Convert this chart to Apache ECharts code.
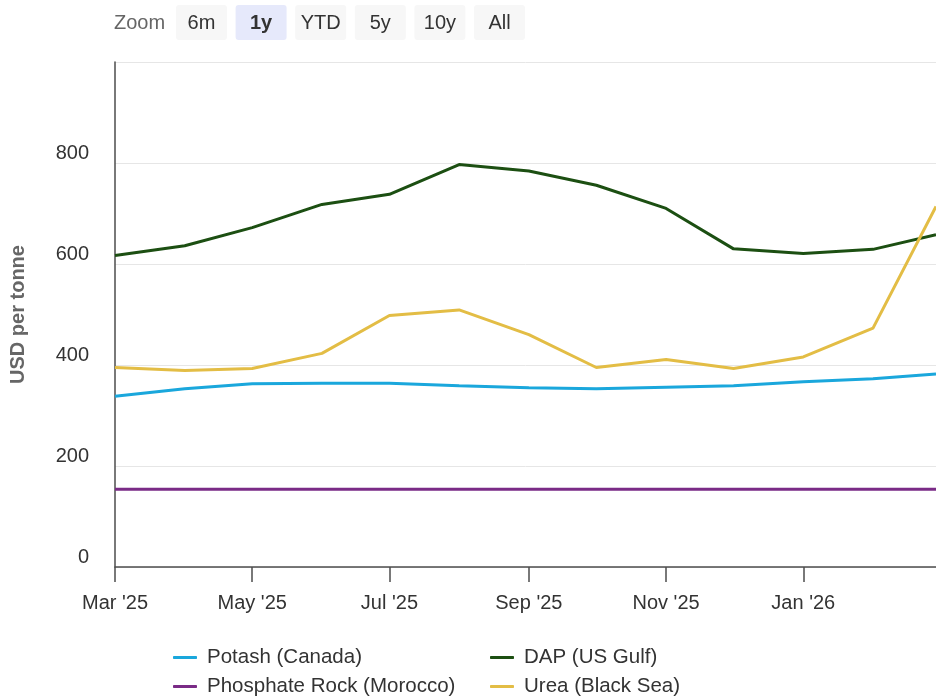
<!DOCTYPE html>
<html>
<head>
<meta charset="utf-8">
<script src="https://cdn.jsdelivr.net/npm/echarts@6/dist/echarts.min.js"></script>
<style>
  html, body { margin: 0; padding: 0; background: #fff; }
  #chart { width: 936px; height: 697px; }
</style>
</head>
<body>
<div id="chart"></div>
<script>
// ---- data ----
const months = ['2025-03','2025-04','2025-05','2025-06','2025-07','2025-08','2025-09','2025-10','2025-11','2025-12','2026-01','2026-02','2026-03'];
const potash    = [338, 353, 363, 364, 364, 359, 355, 353, 356, 359, 367, 373, 382];
const dap       = [617, 636, 672, 718, 738, 797, 784, 756, 710, 630, 621, 629, 658];
const phosphate = [154, 154, 154, 154, 154, 154, 154, 154, 154, 154, 154, 154, 154];
const urea      = [395, 389, 393, 423, 498, 509, 460, 395, 411, 393, 416, 473, 714];
const seriesNames = ['Potash (Canada)', 'DAP (US Gulf)', 'Phosphate Rock (Morocco)', 'Urea (Black Sea)'];
const xTickMonths = ['2025-03','2025-05','2025-07','2025-09','2025-11','2026-01'];
const xTickLabels = ["Mar '25", "May '25", "Jul '25", "Sep '25", "Nov '25", "Jan '26"];
const zoomButtons = ['6m', '1y', 'YTD', '5y', '10y', 'All'];
const selectedZoom = '1y';

function ts(m) { const p = m.split('-'); return Date.UTC(+p[0], +p[1] - 1, 1); }
const xs = months.map(ts);
const tickTs = xTickMonths.map(ts);
const pair = arr => arr.map((v, i) => [xs[i], v]);

const FONT = '"Liberation Sans", Arial, sans-serif';

// zoom buttons as graphics
const graphics = [{
  type: 'text', x: 114, y: 23,
  style: { text: 'Zoom', font: '20px ' + FONT, fill: '#666', verticalAlign: 'middle' }
}];
zoomButtons.forEach((b, i) => {
  const x = 176 + i * 59.6;
  const sel = b === selectedZoom;
  graphics.push({
    type: 'rect', shape: { x: x, y: 5, width: 51, height: 35, r: 3 },
    style: { fill: sel ? '#e6e9fb' : '#f7f7f7' }
  });
  graphics.push({
    type: 'text', x: x + 25.5, y: 23,
    style: { text: b, font: (sel ? 'bold ' : '') + '20px ' + FONT, fill: '#333', align: 'center', verticalAlign: 'middle' }
  });
});

const chart = echarts.init(document.getElementById('chart'));
const axisColor = '#4d4d4d';
const mk = (name, data, color) => ({
  name, type: 'line', data: pair(data), symbol: 'none',
  lineStyle: { width: 3, color }, itemStyle: { color }
});

// legend positions: [left, centerY]
const legendPos = [[173, 657], [490, 657], [173, 686], [490, 686]];
const legends = seriesNames.map((n, i) => ({
  orient: 'horizontal', left: legendPos[i][0], top: legendPos[i][1] - 10, padding: 0,
  itemWidth: 24, itemHeight: 3, icon: 'roundRect', data: [n],
  textStyle: { fontSize: 20.5, color: '#333', lineHeight: 20, padding: [0, 0, 0, 5], fontFamily: FONT }
}));

chart.setOption({
  animation: false,
  textStyle: { fontFamily: FONT },
  graphic: graphics,
  grid: { left: 115, right: 0, top: 62, bottom: 130, containLabel: false },
  xAxis: {
    type: 'value',
    min: xs[0], max: xs[xs.length - 1],
    axisLine: { show: true, lineStyle: { color: axisColor, width: 1.5 } },
    axisTick: { show: true, length: 15, lineStyle: { color: axisColor, width: 1.5 }, customValues: tickTs },
    axisLabel: {
      customValues: tickTs,
      margin: 26, fontSize: 20, color: '#333', fontFamily: FONT,
      formatter: v => { const i = tickTs.indexOf(v); return i >= 0 ? xTickLabels[i] : ''; }
    },
    splitLine: { show: false }
  },
  yAxis: {
    type: 'value', min: 0, max: 1000, interval: 200,
    name: 'USD per tonne', nameLocation: 'middle', nameGap: 87,
    nameTextStyle: { fontSize: 20, fontWeight: 'bold', color: '#666', fontFamily: FONT },
    axisLine: { show: true, lineStyle: { color: axisColor, width: 1.5 } },
    axisTick: { show: false },
    axisLabel: {
      margin: 26, fontSize: 20, color: '#333', fontFamily: FONT,
      verticalAlign: 'bottom', lineHeight: 20,
      formatter: v => v === 1000 ? '' : String(v)
    },
    splitLine: { show: true, lineStyle: { color: '#e6e6e6', width: 1 } }
  },
  legend: legends,
  series: [
    mk(seriesNames[0], potash, '#1aa7dc'),
    mk(seriesNames[1], dap, '#1c4f12'),
    mk(seriesNames[2], phosphate, '#7a2b86'),
    mk(seriesNames[3], urea, '#e3bd45')
  ]
});
</script>
</body>
</html>
